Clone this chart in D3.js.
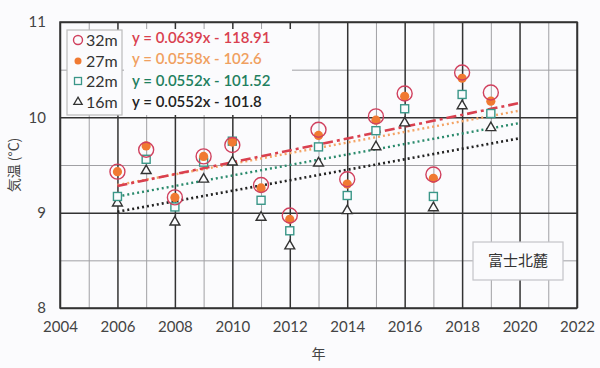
<!DOCTYPE html>
<html lang="ja">
<head>
<meta charset="utf-8" />
<script src="https://d3js.org/d3.v7.min.js"></script>
<style>
  body { margin: 0; background: #fbfbfd; }
  text { font-family: Lato, "Noto Sans", "Noto Sans CJK JP", sans-serif; }
</style>
</head>
<body>
<svg id="chart" width="600" height="368"></svg>
<script>
const years = [2006, 2007, 2008, 2009, 2010, 2011, 2012, 2013, 2014, 2015, 2016, 2017, 2018, 2019];
const t32 = [9.43, 9.66, 9.16, 9.59, 9.71, 9.29, 8.97, 9.87, 9.35, 10.01, 10.25, 9.40, 10.47, 10.26];
const t27 = [9.43, 9.70, 9.16, 9.59, 9.74, 9.26, 8.93, 9.81, 9.30, 9.97, 10.22, 9.36, 10.41, 10.17];
const t22 = [9.17, 9.56, 9.06, 9.53, 9.75, 9.13, 8.81, 9.69, 9.18, 9.86, 10.09, 9.17, 10.24, 10.04];
const t16 = [9.10, 9.44, 8.90, 9.35, 9.53, 8.95, 8.65, 9.52, 9.02, 9.69, 9.94, 9.05, 10.12, 9.89];
// trend line end points (2006 and 2020)
const trendYears = [2006, 2020];
const trend32 = [9.28, 10.15];
const trend27 = [9.29, 10.07];
const trend22 = [9.17, 9.94];
const trend16 = [9.01, 9.78];
const labels = ["32m", "27m", "22m", "16m"];
const equations = ["y = 0.0639x - 118.91", "y = 0.0558x - 102.6", "y = 0.0552x - 101.52", "y = 0.0552x - 101.8"];
const xTicks = [2004, 2006, 2008, 2010, 2012, 2014, 2016, 2018, 2020, 2022];
const yTicks = [8, 9, 10, 11];

const svg = d3.select("#chart");
const margin = {top: 22, right: 23, bottom: 60, left: 60};
const width = 600 - margin.left - margin.right;
const height = 368 - margin.top - margin.bottom;

const x = d3.scaleLinear().domain([2004, 2022]).range([0, width]);
const y = d3.scaleLinear().domain([8, 11]).range([height, 0]);

const g = svg.append("g").attr("transform", "translate(" + margin.left + "," + margin.top + ")");

// minor grid
g.append("g")
  .call(d3.axisBottom(x).tickValues(d3.range(2005, 2022, 2)).tickSize(-height).tickFormat(""))
  .attr("transform", "translate(0," + height + ")")
  .call(a => a.select(".domain").remove())
  .selectAll("line").attr("stroke", "#a0a0a4").attr("stroke-width", 1);
g.append("g")
  .call(d3.axisLeft(y).tickValues([8.5, 9.5, 10.5]).tickSize(-width).tickFormat(""))
  .call(a => a.select(".domain").remove())
  .selectAll("line").attr("stroke", "#a0a0a4").attr("stroke-width", 1);

// major grid
g.append("g")
  .call(d3.axisBottom(x).tickValues(xTicks).tickSize(-height).tickFormat(""))
  .attr("transform", "translate(0," + height + ")")
  .call(a => a.select(".domain").remove())
  .selectAll("line").attr("stroke", "#333").attr("stroke-width", 1.5);
g.append("g")
  .call(d3.axisLeft(y).tickValues(yTicks).tickSize(-width).tickFormat(""))
  .call(a => a.select(".domain").remove())
  .selectAll("line").attr("stroke", "#333").attr("stroke-width", 1.5);

g.append("rect").attr("width", width).attr("height", height)
  .attr("fill", "none").attr("stroke", "#333").attr("stroke-width", 1.5);

// tick labels
const xAxis = g.append("g").attr("transform", "translate(0," + height + ")")
  .call(d3.axisBottom(x).tickValues(xTicks).tickSize(0).tickPadding(13).tickFormat(d3.format("d")));
xAxis.select(".domain").remove();
xAxis.selectAll("text").attr("font-size", 15).attr("fill", "#444");
const yAxis = g.append("g")
  .call(d3.axisLeft(y).tickValues(yTicks).tickSize(0).tickPadding(14).tickFormat(d3.format("d")));
yAxis.select(".domain").remove();
yAxis.selectAll("text").attr("font-size", 15).attr("fill", "#444");

svg.append("text").attr("x", margin.left + x(2013)).attr("y", 359)
  .attr("text-anchor", "middle").attr("font-size", 14).attr("fill", "#444")
  .style("font-family", "'Noto Sans CJK JP'").text("年");
svg.append("text").attr("transform", "translate(19," + (margin.top + height / 2) + ") rotate(-90)")
  .attr("text-anchor", "middle").attr("font-size", 14).attr("fill", "#444")
  .style("font-family", "'Noto Sans CJK JP'").text("気温 (°C)");

// trend lines
const line = d3.line().x(d => x(d[0])).y(d => y(d[1]));
const trends = [
  {v: trend16, color: "#222", dash: "2,3", w: 2.6},
  {v: trend22, color: "#2a8a6c", dash: "2,3", w: 2.4},
  {v: trend27, color: "#f4a466", dash: "2,3", w: 2.4},
  {v: trend32, color: "#d9404f", dash: "10,4,3,4", w: 2.6}
];
trends.forEach(t => {
  g.append("path").datum(trendYears.map((yr, i) => [yr, t.v[i]]))
    .attr("d", line).attr("fill", "none")
    .attr("stroke", t.color).attr("stroke-width", t.w).attr("stroke-dasharray", t.dash);
});

// markers
const sq = 8, tri = d3.symbol().type(d3.symbolTriangle).size(42);
g.selectAll("path.t16").data(years).join("path").attr("class", "t16")
  .attr("d", tri).attr("transform", (d, i) => "translate(" + x(d) + "," + y(t16[i]) + ")")
  .attr("fill", "#fbfbfd").attr("stroke", "#333").attr("stroke-width", 1.4);
g.selectAll("rect.t22").data(years).join("rect").attr("class", "t22")
  .attr("x", d => x(d) - sq / 2).attr("y", (d, i) => y(t22[i]) - sq / 2)
  .attr("width", sq).attr("height", sq)
  .attr("fill", "#fbfbfd").attr("stroke", "#3a9688").attr("stroke-width", 1.4);
g.selectAll("circle.t27").data(years).join("circle").attr("class", "t27")
  .attr("cx", d => x(d)).attr("cy", (d, i) => y(t27[i])).attr("r", 4.6)
  .attr("fill", "#f07a32");
g.selectAll("circle.t32").data(years).join("circle").attr("class", "t32")
  .attr("cx", d => x(d)).attr("cy", (d, i) => y(t32[i])).attr("r", 7.5)
  .attr("fill", "none").attr("stroke", "#d0405e").attr("stroke-width", 1.4);

// legend
svg.append("rect").attr("x", 124).attr("y", 29).attr("width", 168).attr("height", 86).attr("fill", "#fbfbfd");
svg.append("rect").attr("x", 67).attr("y", 30).attr("width", 55).attr("height", 85)
  .attr("fill", "#fbfbfd").attr("stroke", "#bbb").attr("stroke-width", 1.2);
const rowY = [40, 61, 81, 102];
const lg = svg.append("g");
lg.append("circle").attr("cx", 78).attr("cy", rowY[0]).attr("r", 4.5)
  .attr("fill", "none").attr("stroke", "#d0405e").attr("stroke-width", 1.4);
lg.append("circle").attr("cx", 78).attr("cy", rowY[1]).attr("r", 3.5).attr("fill", "#f07a32");
lg.append("rect").attr("x", 74.5).attr("y", rowY[2] - 3.5).attr("width", 7).attr("height", 7)
  .attr("fill", "none").attr("stroke", "#3a9688").attr("stroke-width", 1.3);
lg.append("path").attr("d", d3.symbol().type(d3.symbolTriangle).size(30))
  .attr("transform", "translate(78," + rowY[3] + ")")
  .attr("fill", "none").attr("stroke", "#333").attr("stroke-width", 1.3);
lg.selectAll("text.lab").data(labels).join("text").attr("class", "lab")
  .attr("x", 86).attr("y", (d, i) => rowY[i]).attr("dy", "0.35em")
  .attr("font-size", 16).attr("fill", "#333").text(d => d);

const eqColors = ["#d9404f", "#f0a060", "#1f8060", "#222"];
const eqY = [38, 59, 81, 102];
svg.selectAll("text.eq").data(equations).join("text").attr("class", "eq")
  .attr("x", 132).attr("y", (d, i) => eqY[i]).attr("dy", "0.35em")
  .attr("font-size", 15).attr("font-weight", 600)
  .attr("fill", (d, i) => eqColors[i]).text(d => d);

// location label
svg.append("rect").attr("x", 473).attr("y", 242).attr("width", 90).attr("height", 38)
  .attr("fill", "#fbfbfd").attr("stroke", "#c4c4c8").attr("stroke-width", 1.2);
svg.append("text").attr("x", 518).attr("y", 261).attr("dy", "0.35em")
  .attr("text-anchor", "middle").attr("font-size", 15).attr("fill", "#333")
  .style("font-family", "'Noto Sans CJK JP'").text("富士北麓");
</script>
</body>
</html>
